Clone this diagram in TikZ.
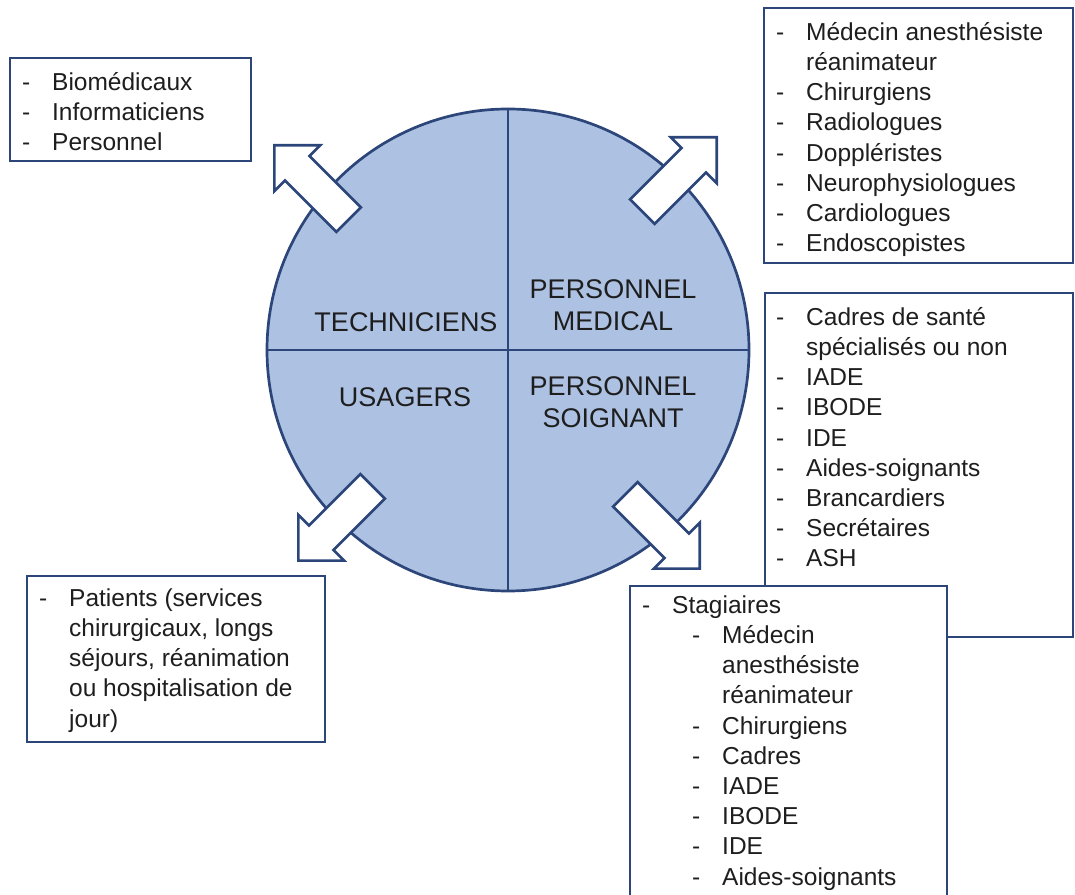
\documentclass[tikz,border=0pt]{standalone}
\usepackage{fontspec}
\setmainfont{Liberation Sans}
\usepackage{tikz}
\usepackage{xcolor}
\usetikzlibrary{shapes}
\definecolor{rimblue}{RGB}{44,70,122}
\definecolor{discblue}{RGB}{173,193,227}
\definecolor{inkgray}{RGB}{30,30,30}
\newcommand{\dashitem}{\strut\makebox[30pt][l]{-}}
\newcommand{\dashcont}{\hspace*{30pt}}
\newcommand{\subdash}{\hspace*{50pt}\makebox[30pt][l]{-}}
\newcommand{\subcont}{\hspace*{80pt}}

\begin{document}
\begin{tikzpicture}[x=1pt,y=1pt]
			\tikzstyle{disc}=[circle,minimum size=482,inner sep=0,draw=rimblue,line width=2.7pt,fill=discblue]
			\tikzstyle{quarter}=[font=\fontsize{27}{32}\selectfont,align=center,text=inkgray]
			\tikzstyle{listbox}=[rectangle,draw=rimblue,line width=2.7pt,fill=white,anchor=north west,inner sep=0,outer sep=0]
			\tikzstyle{listtext}=[anchor=north west,inner sep=0,align=left,text=inkgray,font=\fontsize{24.5}{30.2}\selectfont]
			\tikzstyle{fatarrow}=[single arrow,single arrow tip angle=90,single arrow head extend=15,minimum width=62,minimum height=105,inner xsep=0,inner ysep=16,draw=rimblue,line width=2.7pt,fill=white,anchor=tip]
			
			\useasboundingbox (0,0) rectangle (1075,894);
			
			\node [disc] (disc) at (508,544) {};
			\draw [rimblue,line width=2.7pt] (disc.north) -- (disc.south);
			\draw [rimblue,line width=2.7pt] (disc.west) -- (disc.east);
			
			\node [quarter] (tech) at (406,572) {TECHNICIENS};
			\node [quarter] (med) at (613,589) {PERSONNEL\\MEDICAL};
			\node [quarter] (users) at (405,497) {USAGERS};
			\node [quarter] (care) at (613,492) {PERSONNEL\\SOIGNANT};
			
			\node [fatarrow,rotate=135] (arrtech) at (273,750) {};
			\node [fatarrow,rotate=45] (arrmed) at (718,758) {};
			\node [fatarrow,rotate=225] (arrusers) at (297,332) {};
			\node [fatarrow,rotate=-45] (arrcare) at (701,324) {};
			
			\node [listbox,minimum width=241,minimum height=103] (techbox) at (10,836) {};
			\node [listtext] (techlist) at ([xshift=12,yshift=-11]techbox.north west)
				{\dashitem Biomédicaux\\ \dashitem Informaticiens\\ \dashitem Personnel};
			
			\node [listbox,minimum width=309,minimum height=255] (medbox) at (764,886) {};
			\node [listtext] (medlist) at ([xshift=12,yshift=-11]medbox.north west)
				{\dashitem Médecin anesthésiste\\ \dashcont réanimateur\\ \dashitem Chirurgiens\\
				 \dashitem Radiologues\\ \dashitem Doppléristes\\ \dashitem Neurophysiologues\\
				 \dashitem Cardiologues\\ \dashitem Endoscopistes};
			
			\node [listbox,minimum width=308,minimum height=344] (carebox) at (765,601) {};
			\node [listtext] (carelist) at ([xshift=11,yshift=-11]carebox.north west)
				{\dashitem Cadres de santé\\ \dashcont spécialisés ou non\\ \dashitem IADE\\
				 \dashitem IBODE\\ \dashitem IDE\\ \dashitem Aides-soignants\\
				 \dashitem Brancardiers\\ \dashitem Secrétaires\\ \dashitem ASH};
			
			\node [listbox,minimum width=317,minimum height=311] (stagbox) at (630,308) {};
			\node [listtext] (staglist) at ([xshift=12,yshift=-6]stagbox.north west)
				{\dashitem Stagiaires\\ \subdash Médecin\\ \subcont anesthésiste\\ \subcont réanimateur\\
				 \subdash Chirurgiens\\ \subdash Cadres\\ \subdash IADE\\ \subdash IBODE\\
				 \subdash IDE\\ \subdash Aides-soignants};
			
			\node [listbox,minimum width=298,minimum height=166] (userbox) at (27,318) {};
			\node [listtext] (userlist) at ([xshift=12,yshift=-9]userbox.north west)
				{\dashitem Patients (services\\ \dashcont chirurgicaux, longs\\ \dashcont séjours, réanimation\\
				 \dashcont ou hospitalisation de\\ \dashcont jour)};
\end{tikzpicture}
\end{document}
